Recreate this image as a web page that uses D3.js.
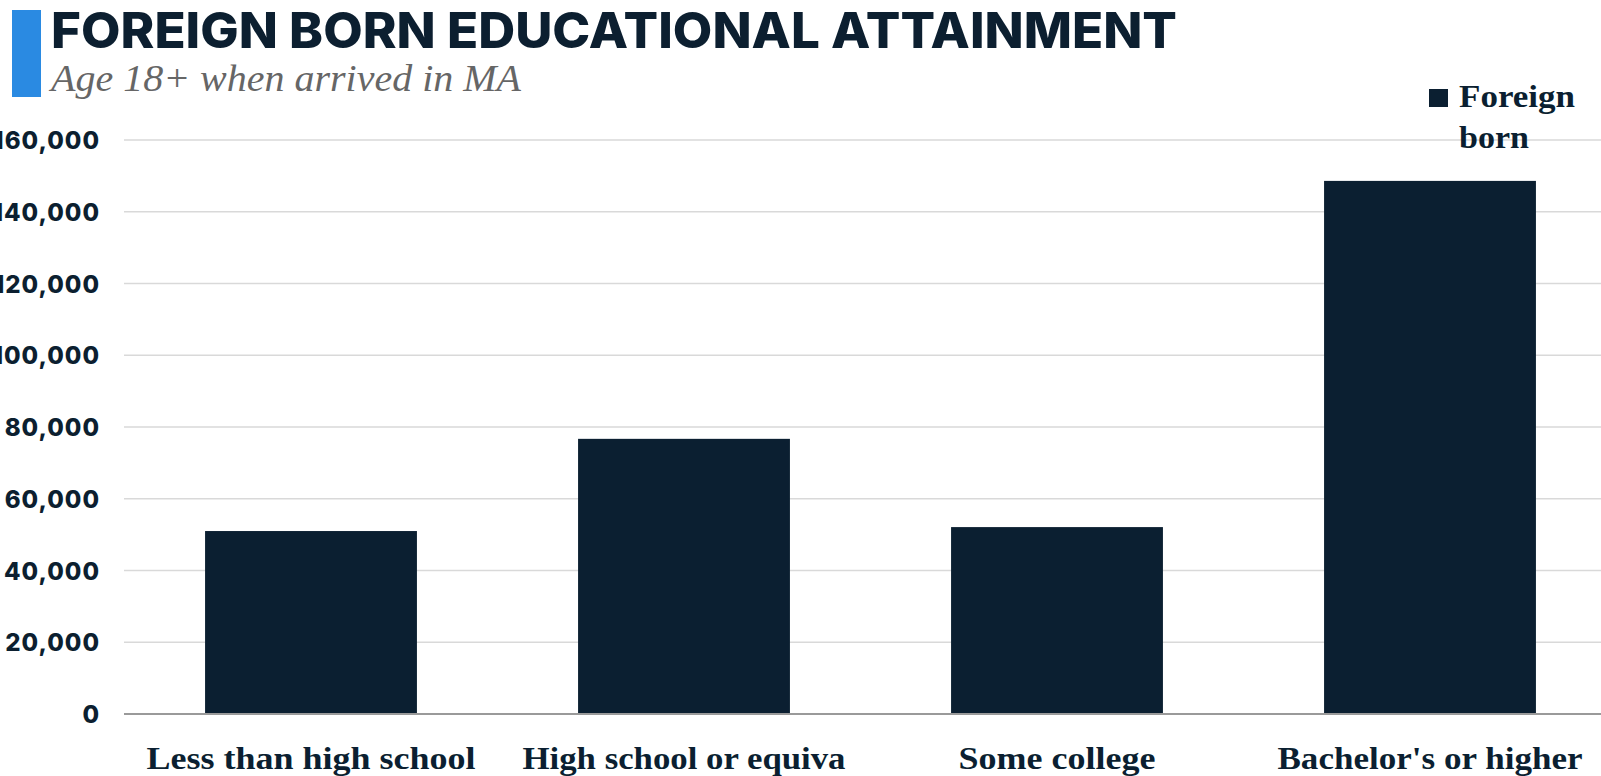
<!DOCTYPE html>
<html>
<head>
<meta charset="utf-8">
<script src="https://cdn.jsdelivr.net/npm/d3@7"></script>
<style>
  body { margin: 0; background: #fff; overflow: hidden; }
</style>
</head>
<body>
<script>
    var w = 1601;
    var h = 776;

    // Chart data
    var categories = ["Less than high school", "High school or equiva", "Some college", "Bachelor's or higher"];
    var foreignBorn = [51000, 76700, 52100, 148600];
    var yTicks = [0, 20000, 40000, 60000, 80000, 100000, 120000, 140000, 160000];
    var seriesName = ["Foreign", "born"];

    var navy = "#0b1f31";

    var svg = d3.select("body")
                .append("svg")
                .attr("width", w)
                .attr("height", h);

    // plot area (runs slightly off the right edge, like the original)
    var plotLeft = 124.5, plotRight = 1616.5, plotTop = 140, plotBottom = 714;

    var x = d3.scaleBand()
              .domain(categories)
              .range([plotLeft, plotRight])
              .paddingInner(0.432)
              .paddingOuter(0.216);

    var y = d3.scaleLinear()
              .domain([0, 160000])
              .range([plotBottom, plotTop]);

    // Title block
    svg.append("rect")
       .attr("x", 12).attr("y", 10)
       .attr("width", 29).attr("height", 87)
       .attr("fill", "#2a8ae2");

    svg.append("text")
       .attr("x", 51).attr("y", 48)
       .attr("font-family", "Inter, 'Open Sans', sans-serif")
       .attr("font-weight", 800)
       .attr("font-size", 49)
       .attr("fill", "#0c1f30")
       .attr("textLength", 1126)
       .attr("lengthAdjust", "spacingAndGlyphs")
       .text("FOREIGN BORN EDUCATIONAL ATTAINMENT");

    svg.append("text")
       .attr("x", 51).attr("y", 91)
       .attr("font-family", "'Liberation Serif', serif")
       .attr("font-style", "italic")
       .attr("font-size", 38)
       .attr("fill", "#666")
       .attr("textLength", 470)
       .attr("lengthAdjust", "spacingAndGlyphs")
       .text("Age 18+ when arrived in MA");

    // Gridlines
    svg.append("g")
       .selectAll("line")
       .data(yTicks.filter(d => d > 0))
       .enter()
       .append("line")
       .attr("x1", 124).attr("x2", w)
       .attr("y1", d => y(d)).attr("y2", d => y(d))
       .attr("stroke", "#d9d9d9")
       .attr("stroke-width", 1.5);

    // Y axis labels
    var yAxis = d3.axisLeft(y)
                  .tickValues(yTicks)
                  .tickFormat(d3.format(","))
                  .tickSize(0)
                  .tickPadding(0);

    var gy = svg.append("g")
                .attr("transform", "translate(100,0)")
                .call(yAxis);
    gy.select(".domain").remove();
    gy.selectAll("text")
      .attr("font-family", "Inter, sans-serif")
      .attr("font-weight", 800)
      .attr("font-size", 24)
      .attr("letter-spacing", 1)
      .attr("fill", "#0c1f30")
      .attr("dy", "0.36em");

    // Bars
    svg.append("g")
       .selectAll("rect")
       .data(foreignBorn)
       .enter()
       .append("rect")
       .attr("x", (d, i) => x(categories[i]))
       .attr("y", d => y(d))
       .attr("width", x.bandwidth())
       .attr("height", d => y(0) - y(d))
       .attr("fill", navy);

    // Baseline
    svg.append("line")
       .attr("x1", 124).attr("x2", w)
       .attr("y1", y(0)).attr("y2", y(0))
       .attr("stroke", "#9a9a9a")
       .attr("stroke-width", 2);

    // X axis labels
    var labelWidths = [329, 323, 197, 305];
    svg.append("g")
       .selectAll("text")
       .data(categories)
       .enter()
       .append("text")
       .attr("x", d => x(d) + x.bandwidth() / 2)
       .attr("y", 769)
       .attr("text-anchor", "middle")
       .attr("font-family", "'Liberation Serif', serif")
       .attr("font-weight", 700)
       .attr("font-size", 32)
       .attr("fill", navy)
       .attr("textLength", (d, i) => labelWidths[i])
       .attr("lengthAdjust", "spacingAndGlyphs")
       .text(d => d);

    // Legend
    var legendWidths = [116, 70];
    var legend = svg.append("g");
    legend.append("rect")
          .attr("x", 1429).attr("y", 89)
          .attr("width", 19).attr("height", 18)
          .attr("fill", navy);
    legend.selectAll("text")
          .data(seriesName)
          .enter()
          .append("text")
          .attr("x", 1459)
          .attr("y", (d, i) => 107 + i * 41)
          .attr("font-family", "'Liberation Serif', serif")
          .attr("font-weight", 700)
          .attr("font-size", 32)
          .attr("fill", navy)
          .attr("textLength", (d, i) => legendWidths[i])
          .attr("lengthAdjust", "spacingAndGlyphs")
          .text(d => d);
</script>
</body>
</html>
